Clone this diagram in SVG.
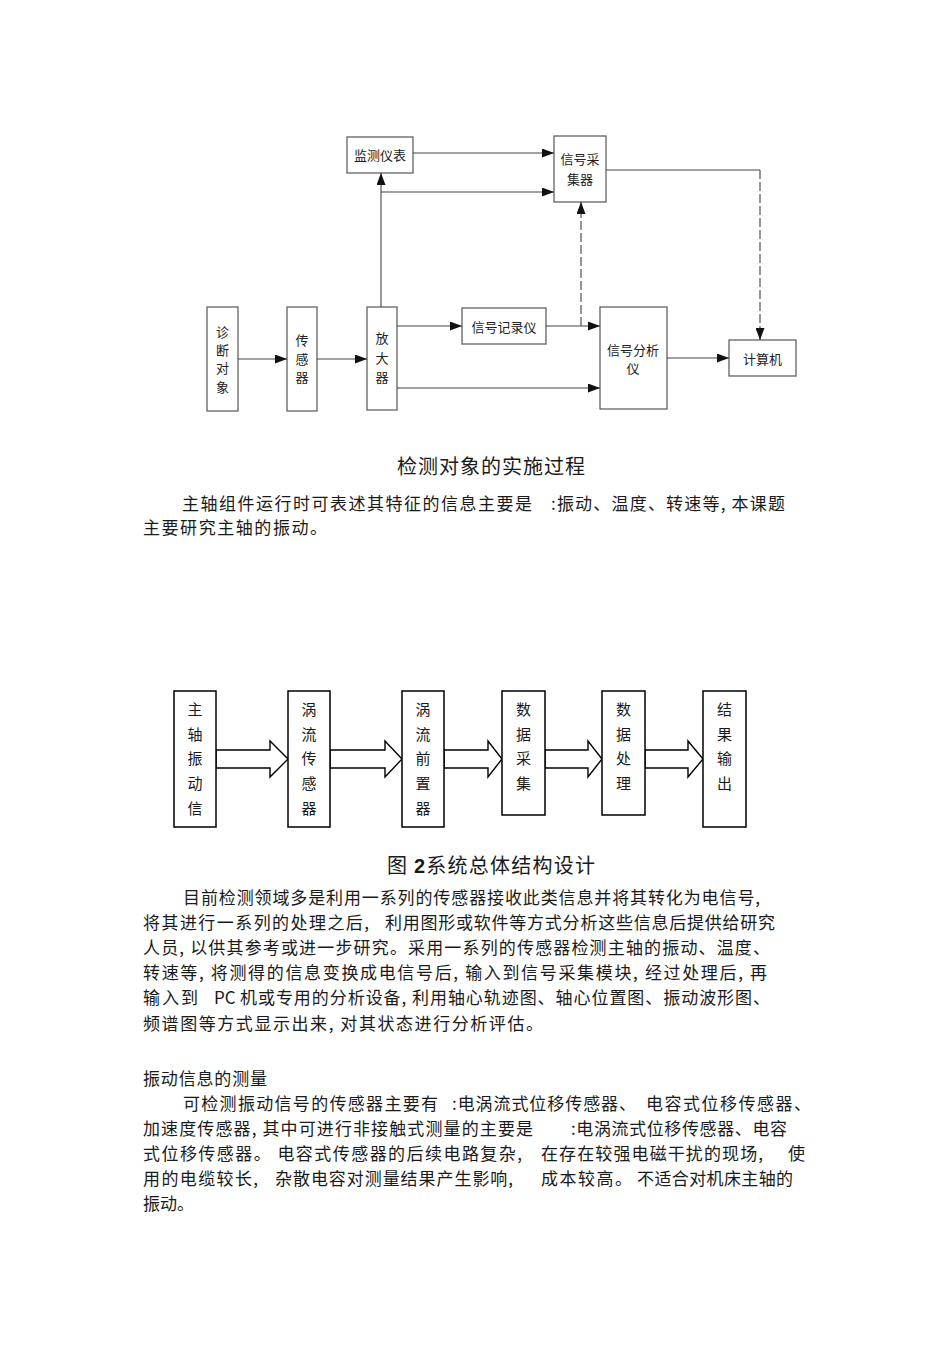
<svg xmlns="http://www.w3.org/2000/svg" width="950" height="1345" viewBox="0 0 950 1345">
<style>
.t{font-family:"Noto Sans CJK SC","Liberation Sans",sans-serif;fill:#1a1a1a}
.body{font-size:17px}
.cap{font-size:20px}
.lbl{font-size:13px;text-anchor:middle;fill:#222}
.lbl2{font-size:15px;text-anchor:middle}
.b1{fill:#fff;stroke:#555;stroke-width:1.2}
.b2{fill:#fff;stroke:#000;stroke-width:1.5}
.ln{fill:none;stroke:#444;stroke-width:1.1}
.dash{stroke-dasharray:9 3}
.blk{fill:#fff;stroke:#000;stroke-width:1.4;stroke-linejoin:miter}
</style>
<defs>
<marker id="ah" markerWidth="12" markerHeight="9" refX="12" refY="4.5" orient="auto" markerUnits="userSpaceOnUse"><path d="M0,0 L12,4.5 L0,9 z" fill="#111"/></marker>
</defs>
<rect width="950" height="1345" fill="#fff"/>

<!-- Diagram 1 -->
<g id="n-jiance"><rect class="b1" x="347" y="137" width="66" height="36"/><text class="t lbl" x="380" y="160">监测仪表</text></g>
<g id="n-caiji"><rect class="b1" x="554" y="136" width="52" height="66"/><text class="t lbl" x="580" y="164">信号采</text><text class="t lbl" x="580" y="184">集器</text></g>
<g id="n-zhenduan"><rect class="b1" x="207" y="307" width="31" height="104"/><text class="t lbl" x="222.5" y="337">诊</text><text class="t lbl" x="222.5" y="355">断</text><text class="t lbl" x="222.5" y="373">对</text><text class="t lbl" x="222.5" y="392">象</text></g>
<g id="n-chuanganqi"><rect class="b1" x="287" y="307" width="30" height="104"/><text class="t lbl" x="302" y="345">传</text><text class="t lbl" x="302" y="364">感</text><text class="t lbl" x="302" y="382">器</text></g>
<g id="n-fangdaqi"><rect class="b1" x="367" y="307" width="30" height="103"/><text class="t lbl" x="382" y="343">放</text><text class="t lbl" x="382" y="363">大</text><text class="t lbl" x="382" y="382">器</text></g>
<g id="n-jilu"><rect class="b1" x="462" y="308" width="84" height="36"/><text class="t lbl" x="504" y="332">信号记录仪</text></g>
<g id="n-fenxi"><rect class="b1" x="600" y="307" width="67" height="102"/><text class="t lbl" x="633" y="355">信号分析</text><text class="t lbl" x="633" y="373">仪</text></g>
<g id="n-jisuanji"><rect class="b1" x="729" y="340" width="67" height="36"/><text class="t lbl" x="762.5" y="364">计算机</text></g>

<g id="connectors1">
<path class="ln" d="M238,359 H287" marker-end="url(#ah)"/>
<path class="ln" d="M317,359 H367" marker-end="url(#ah)"/>
<path class="ln" d="M397,326 H462" marker-end="url(#ah)"/>
<path class="ln" d="M397,388 H600" marker-end="url(#ah)"/>
<path class="ln" d="M546,326 H600" marker-end="url(#ah)"/>
<path class="ln" d="M381,307 V173" marker-end="url(#ah)"/>
<path class="ln" d="M381,192 H554" marker-end="url(#ah)"/>
<path class="ln" d="M413,153 H554" marker-end="url(#ah)"/>
<path class="ln dash" d="M581,326 V202" marker-end="url(#ah)"/>
<path class="ln" d="M606,170 H760"/>
<path class="ln dash" d="M760,170 V340" marker-end="url(#ah)"/>
<path class="ln" d="M667,358 H729" marker-end="url(#ah)"/>
</g>

<text class="t cap" x="397" y="474" textLength="188" lengthAdjust="spacing">检测对象的实施过程</text>

<text class="t body" x="182" y="509.5" textLength="350" lengthAdjust="spacing">主轴组件运行时可表述其特征的信息主要是</text>
<text class="t body" x="551" y="509.5" textLength="234" lengthAdjust="spacing">:振动、温度、转速等, 本课题</text>
<text class="t body" x="143" y="533.5" textLength="184" lengthAdjust="spacing">主要研究主轴的振动。</text>

<!-- Diagram 2 -->
<g id="connectors2">
<polygon class="blk" points="216,750 270,750 270,741 288,759 270,777 270,768 216,768"/>
<polygon class="blk" points="330,750 385,750 385,741 402,759 385,777 385,768 330,768"/>
<polygon class="blk" points="444,750 488,750 488,741 502,759 488,777 488,768 444,768"/>
<polygon class="blk" points="545,750 588,750 588,741 602,759 588,777 588,768 545,768"/>
<polygon class="blk" points="645,750 688,750 688,741 703,759 688,777 688,768 645,768"/>
</g>
<g id="s-zhuzhou"><rect class="b2" x="174" y="691" width="42" height="136"/><text class="t lbl2" x="195" y="715">主</text><text class="t lbl2" x="195" y="739.5">轴</text><text class="t lbl2" x="195" y="764">振</text><text class="t lbl2" x="195" y="789">动</text><text class="t lbl2" x="195" y="813.5">信</text></g>
<g id="s-wochuan"><rect class="b2" x="288" y="691" width="42" height="136"/><text class="t lbl2" x="309" y="715">涡</text><text class="t lbl2" x="309" y="739.5">流</text><text class="t lbl2" x="309" y="764">传</text><text class="t lbl2" x="309" y="789">感</text><text class="t lbl2" x="309" y="813.5">器</text></g>
<g id="s-woqian"><rect class="b2" x="402" y="691" width="42" height="136"/><text class="t lbl2" x="423" y="715">涡</text><text class="t lbl2" x="423" y="739.5">流</text><text class="t lbl2" x="423" y="764">前</text><text class="t lbl2" x="423" y="789">置</text><text class="t lbl2" x="423" y="813.5">器</text></g>
<g id="s-caiji"><rect class="b2" x="502" y="691" width="43" height="124"/><text class="t lbl2" x="523.5" y="715">数</text><text class="t lbl2" x="523.5" y="739.5">据</text><text class="t lbl2" x="523.5" y="764">采</text><text class="t lbl2" x="523.5" y="789">集</text></g>
<g id="s-chuli"><rect class="b2" x="602" y="691" width="43" height="124"/><text class="t lbl2" x="623.5" y="715">数</text><text class="t lbl2" x="623.5" y="739.5">据</text><text class="t lbl2" x="623.5" y="764">处</text><text class="t lbl2" x="623.5" y="789">理</text></g>
<g id="s-shuchu"><rect class="b2" x="703" y="691" width="43" height="136"/><text class="t lbl2" x="724.5" y="715">结</text><text class="t lbl2" x="724.5" y="739.5">果</text><text class="t lbl2" x="724.5" y="764">输</text><text class="t lbl2" x="724.5" y="789">出</text></g>

<text class="t cap" x="387" y="873" textLength="208" lengthAdjust="spacing">图 <tspan font-family="Liberation Sans" font-weight="bold">2</tspan>系统总体结构设计</text>

<text class="t body" x="183" y="903.5" textLength="577" lengthAdjust="spacing">目前检测领域多是利用一系列的传感器接收此类信息并将其转化为电信号,</text>
<text class="t body" x="143" y="928.7" textLength="226" lengthAdjust="spacing">将其进行一系列的处理之后,</text>
<text class="t body" x="385" y="928.7" textLength="390" lengthAdjust="spacing">利用图形或软件等方式分析这些信息后提供给研究</text>
<text class="t body" x="143" y="953.9" textLength="627" lengthAdjust="spacing">人员, 以供其参考或进一步研究。采用一系列的传感器检测主轴的振动、温度、</text>
<text class="t body" x="143" y="979.1" textLength="624" lengthAdjust="spacing">转速等, 将测得的信息变换成电信号后, 输入到信号采集模块, 经过处理后, 再</text>
<text class="t body" x="143" y="1004.3" textLength="55" lengthAdjust="spacing">输入到</text>
<text class="t body" x="214" y="1004.3" font-family="Liberation Sans">PC</text>
<text class="t body" x="240" y="1004.3" textLength="530" lengthAdjust="spacing">机或专用的分析设备, 利用轴心轨迹图、轴心位置图、振动波形图、</text>
<text class="t body" x="143" y="1029.5" textLength="400" lengthAdjust="spacing">频谱图等方式显示出来, 对其状态进行分析评估。</text>

<text class="t body" x="143" y="1084.5" textLength="124" lengthAdjust="spacing">振动信息的测量</text>
<text class="t body" x="183" y="1109.5" textLength="255" lengthAdjust="spacing">可检测振动信号的传感器主要有</text>
<text class="t body" x="452" y="1109.5" textLength="184" lengthAdjust="spacing">:电涡流式位移传感器、</text>
<text class="t body" x="646" y="1109.5" textLength="165" lengthAdjust="spacing">电容式位移传感器、</text>
<text class="t body" x="143" y="1134.5" textLength="390" lengthAdjust="spacing">加速度传感器, 其中可进行非接触式测量的主要是</text>
<text class="t body" x="571" y="1134.5" textLength="216" lengthAdjust="spacing">:电涡流式位移传感器、电容</text>
<text class="t body" x="143" y="1159.5" textLength="379" lengthAdjust="spacing">式位移传感器。 电容式传感器的后续电路复杂,</text>
<text class="t body" x="541" y="1159.5" textLength="222" lengthAdjust="spacing">在存在较强电磁干扰的现场,</text>
<text class="t body" x="788" y="1159.5">使</text>
<text class="t body" x="143" y="1184.5" textLength="115" lengthAdjust="spacing">用的电缆较长,</text>
<text class="t body" x="275" y="1184.5" textLength="238" lengthAdjust="spacing">杂散电容对测量结果产生影响,</text>
<text class="t body" x="541" y="1184.5" textLength="91" lengthAdjust="spacing">成本较高。</text>
<text class="t body" x="637" y="1184.5" textLength="156" lengthAdjust="spacing">不适合对机床主轴的</text>
<text class="t body" x="143" y="1209.5">振动。</text>
</svg>
